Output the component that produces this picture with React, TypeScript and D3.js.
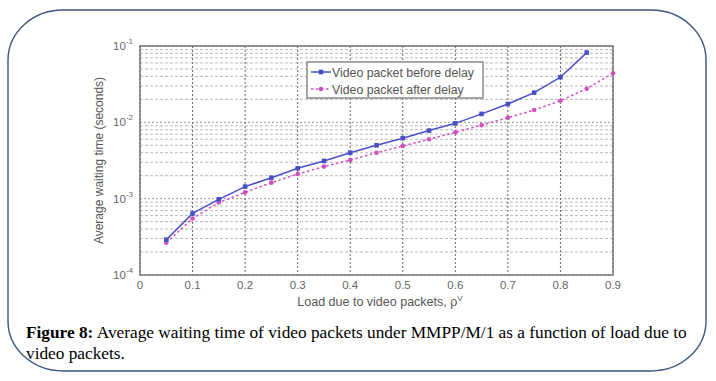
import React from "react";
import * as d3 from "d3";

const loads = [0.05, 0.1, 0.15, 0.2, 0.25, 0.3, 0.35, 0.4, 0.45, 0.5, 0.55, 0.6, 0.65, 0.7, 0.75, 0.8, 0.85];
const beforeDelay = [2.9e-4, 6.4e-4, 9.8e-4, 1.44e-3, 1.88e-3, 2.5e-3, 3.12e-3, 4.0e-3, 5.0e-3, 6.2e-3, 7.8e-3, 9.7e-3, 1.29e-2, 1.74e-2, 2.45e-2, 3.9e-2, 8.2e-2];
const loadsAfter = [0.05, 0.1, 0.15, 0.2, 0.25, 0.3, 0.35, 0.4, 0.45, 0.5, 0.55, 0.6, 0.65, 0.7, 0.75, 0.8, 0.85, 0.9];
const afterDelay = [2.65e-4, 5.5e-4, 8.9e-4, 1.21e-3, 1.62e-3, 2.1e-3, 2.63e-3, 3.2e-3, 4.0e-3, 4.9e-3, 6.0e-3, 7.4e-3, 9.2e-3, 1.15e-2, 1.45e-2, 1.92e-2, 2.76e-2, 4.4e-2];
const xTicks = [0, 0.1, 0.2, 0.3, 0.4, 0.5, 0.6, 0.7, 0.8, 0.9];
const yDecades = [-4, -3, -2, -1];
const seriesNames = ["Video packet before delay", "Video packet after delay"];

export default function App() {
  const W = 716, H = 381;
  const L = 140, R = 613, T = 46, B = 275;
  const x = d3.scaleLinear().domain([0, 0.9]).range([L, R]);
  const y = d3.scaleLog().domain([1e-4, 1e-1]).range([B, T]);
  const minor: number[] = [];
  for (let e = -4; e < -1; e++) for (let m = 2; m <= 9; m++) minor.push(m * Math.pow(10, e));
  const line = d3.line<[number, number]>().x(d => x(d[0])).y(d => y(d[1]));
  const blueData: [number, number][] = loads.map((l, i) => [l, beforeDelay[i]]);
  const pinkData: [number, number][] = loadsAfter.map((l, i) => [l, afterDelay[i]]);
  const blue = "#4a4fc8";
  const pink = "#d24fc0";
  const gridColor = "#8a8a8a";
  const sans = "Arial, 'Liberation Sans', sans-serif";
  const serif = "'Times New Roman', 'Liberation Serif', serif";
  return (
    <svg width={W} height={H} style={{ position: "absolute", left: 0, top: 0 }}>
      <rect x={0} y={0} width={W} height={H} fill="#fff" />
      <rect x={8} y={10} width={698} height={361} rx={55} ry={50} fill="none" stroke="#3d5580" strokeWidth={1.4} />
      <g>
        <rect x={L} y={T} width={R - L} height={B - T} fill="#fff" />
        {minor.map((v, i) => (
          <line key={"mn" + i} x1={L} x2={R} y1={y(v)} y2={y(v)} stroke={gridColor} strokeWidth={0.8} strokeDasharray="3,2" opacity={0.75} />
        ))}
        {yDecades.map(e => (
          <line key={"dc" + e} x1={L} x2={R} y1={y(Math.pow(10, e))} y2={y(Math.pow(10, e))} stroke={gridColor} strokeWidth={0.9} strokeDasharray="2,2" />
        ))}
        {xTicks.map(t => (
          <line key={"xg" + t} x1={x(t)} x2={x(t)} y1={T} y2={B} stroke="#666" strokeWidth={1} strokeDasharray="2,2" />
        ))}
        <rect x={L} y={T} width={R - L} height={B - T} fill="none" stroke="#777" strokeWidth={1.5} />
        {xTicks.map(t => (
          <text key={"xt" + t} x={x(t)} y={B + 14} textAnchor="middle" fontFamily={sans} fontSize={11.5} fill="#666">
            {t === 0 ? "0" : t.toFixed(1)}
          </text>
        ))}
        {yDecades.map(e => (
          <text key={"yt" + e} x={L - 7} y={y(Math.pow(10, e)) + 4} textAnchor="end" fontFamily={sans} fontSize={11.5} fill="#666">
            10
            <tspan dy={-6} fontSize={8}>{String(e)}</tspan>
          </text>
        ))}
        <text x={380} y={306} textAnchor="middle" fontFamily={sans} fontSize={12.5} fill="#555">
          Load due to video packets, ρ<tspan dy={-5} fontSize={8}>V</tspan>
        </text>
        <text transform={`translate(103,${(T + B) / 2}) rotate(-90)`} textAnchor="middle" fontFamily={sans} fontSize={12} fill="#555">
          Average waiting time (seconds)
        </text>
        <path d={line(pinkData) || ""} fill="none" stroke={pink} strokeWidth={1.5} strokeDasharray="2.5,2.5" />
        {pinkData.map((d, i) => (
          <circle key={"pm" + i} cx={x(d[0])} cy={y(d[1])} r={2.3} fill={pink} />
        ))}
        <path d={line(blueData) || ""} fill="none" stroke={blue} strokeWidth={1.5} />
        {blueData.map((d, i) => (
          <rect key={"bm" + i} x={x(d[0]) - 2.3} y={y(d[1]) - 2.3} width={4.6} height={4.6} fill={blue} />
        ))}
        <g>
          <rect x={307} y={62} width={176} height={36} fill="#fff" stroke="#777" strokeWidth={1.3} />
          <line x1={311} x2={331} y1={72} y2={72} stroke={blue} strokeWidth={1.5} />
          <rect x={318.7} y={69.7} width={4.6} height={4.6} fill={blue} />
          <text x={332} y={76.5} fontFamily={sans} fontSize={12.3} fill="#555">{seriesNames[0]}</text>
          <line x1={311} x2={331} y1={89} y2={89} stroke={pink} strokeWidth={1.5} strokeDasharray="2.5,2.5" />
          <circle cx={321} cy={89} r={2.3} fill={pink} />
          <text x={332} y={93.5} fontFamily={sans} fontSize={12.3} fill="#555">{seriesNames[1]}</text>
        </g>
      </g>
      <text x={26} y={338} fontFamily={serif} fontSize={17.3} fill="#000">
        <tspan fontWeight="bold">Figure 8:</tspan> Average waiting time of video packets under MMPP/M/1 as a function of load due to
      </text>
      <text x={26} y={359} fontFamily={serif} fontSize={17.3} fill="#000">
        video packets.
      </text>
    </svg>
  );
}
